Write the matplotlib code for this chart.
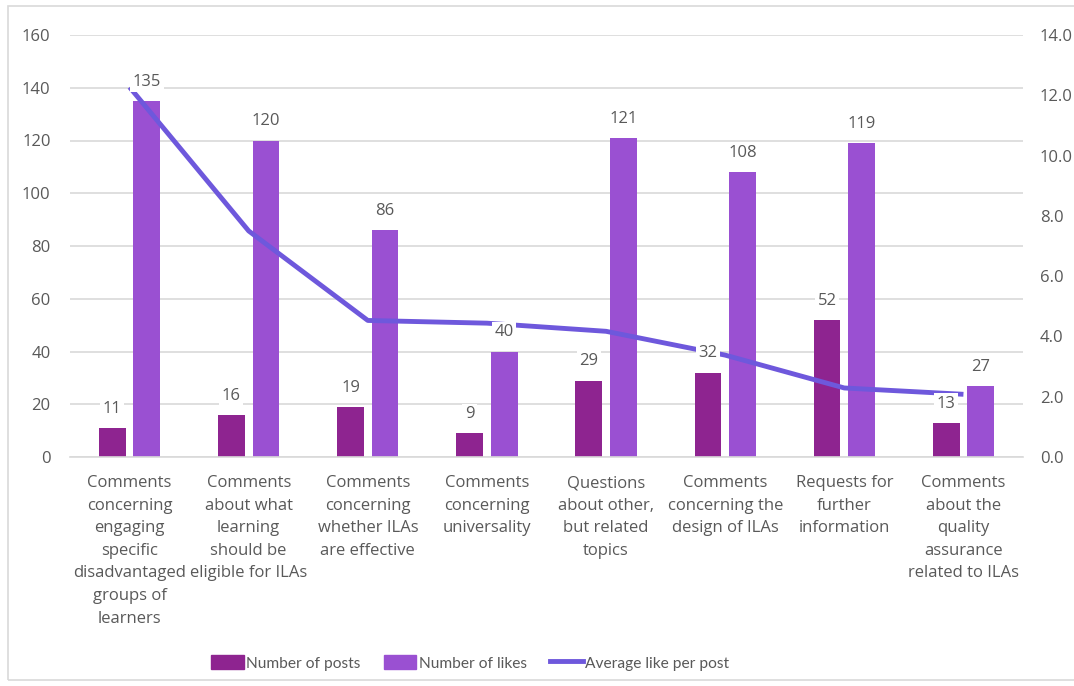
import numpy as np
import matplotlib.pyplot as plt
from matplotlib.patches import Rectangle
from matplotlib.lines import Line2D

# Dados
categories = [
    "Comments\nconcerning\nengaging\nspecific\ndisadvantaged\ngroups of\nlearners",
    "Comments\nabout what\nlearning\nshould be\neligible for ILAs",
    "Comments\nconcerning\nwhether ILAs\nare effective",
    "Comments\nconcerning\nuniversality",
    "Questions\nabout other,\nbut related\ntopics",
    "Comments\nconcerning the\ndesign of ILAs",
    "Requests for\nfurther\ninformation",
    "Comments\nabout the\nquality\nassurance\nrelated to ILAs",
]
posts = [11, 16, 19, 9, 29, 32, 52, 13]
likes = [135, 120, 86, 40, 121, 108, 119, 27]
avg_likes = [12.27, 7.50, 4.53, 4.44, 4.17, 3.38, 2.29, 2.08]

c_posts = '#8E2490'
c_likes = '#9A50D2'
c_line = '#6E58DC'
txt = '#595959'
grid_c = '#D9D9D9'

plt.rcParams['font.family'] = ['Open Sans', 'DejaVu Sans']

fig = plt.figure(figsize=(10.74, 6.86), dpi=100)
# borda externa do gráfico
fig.add_artist(Rectangle((8 / 1074, 6 / 686), 1.2, 674 / 686, transform=fig.transFigure,
                         fill=False, ec='#D9D9D9', lw=1.2))

ax = fig.add_axes([70 / 1074, 1 - 457 / 686, 953 / 1074, 422 / 686])
ax2 = ax.twinx()

x = np.arange(len(categories))
w = 0.225
ax.bar(x - 0.145, posts, w, color=c_posts, zorder=2)
ax.bar(x + 0.145, likes, w, color=c_likes, zorder=2)

ax.set_xlim(-0.5, len(categories) - 0.5)
ax.set_ylim(0, 160)
ax.set_yticks(np.arange(0, 161, 20))
ax.yaxis.grid(True, color=grid_c, lw=1.2)
ax.set_axisbelow(True)
for s in ['top', 'left', 'right']:
    ax.spines[s].set_visible(False)
ax.spines['bottom'].set_color(grid_c)
ax.spines['bottom'].set_linewidth(1.2)
ax.tick_params(axis='y', length=0, pad=14, labelsize=12, labelcolor=txt)
ax.tick_params(axis='x', length=0, pad=13, labelsize=12, labelcolor=txt)
ax.set_xticks(x)
ax.set_xticklabels(categories, linespacing=1.55)

ax2.plot(x, avg_likes, color=c_line, lw=3.5, solid_capstyle='butt', zorder=3)
ax2.set_ylim(0, 14)
ax2.set_yticks(np.arange(0, 14.1, 2))
ax2.set_yticklabels([f"{v:.1f}" for v in np.arange(0, 14.1, 2)])
ax2.tick_params(axis='y', length=0, pad=12, labelsize=12, labelcolor=txt)
for s in ax2.spines.values():
    s.set_visible(False)

# rótulos de dados (com fundo branco, por cima da linha)
box = dict(boxstyle='square,pad=0.15', fc='white', ec='none')
for xi, v in zip(x - 0.145, posts):
    ax2.annotate(str(v), (xi, v * 14 / 160), xytext=(0, 8), textcoords='offset points',
                 ha='center', va='bottom', fontsize=12, color=txt, bbox=box, zorder=5)
for xi, v in zip(x + 0.145, likes):
    ax2.annotate(str(v), (xi, v * 14 / 160), xytext=(0, 8), textcoords='offset points',
                 ha='center', va='bottom', fontsize=12, color=txt, bbox=box, zorder=5)

handles = [Rectangle((0, 0), 1, 1, color=c_posts),
           Rectangle((0, 0), 1, 1, color=c_likes),
           Line2D([0], [0], color=c_line, lw=3.5)]
fig.legend(handles, ["Number of posts", "Number of likes", "Average like per post"],
           loc='center', bbox_to_anchor=(470 / 1074, 1 - 663 / 686), ncol=3, frameon=False,
           prop={'family': ['Lato', 'DejaVu Sans'], 'size': 11.2},
           labelcolor=txt, handlelength=2.1, handleheight=0.95,
           handletextpad=0.15, columnspacing=1.5)

fig.savefig('out.png', dpi=100)
